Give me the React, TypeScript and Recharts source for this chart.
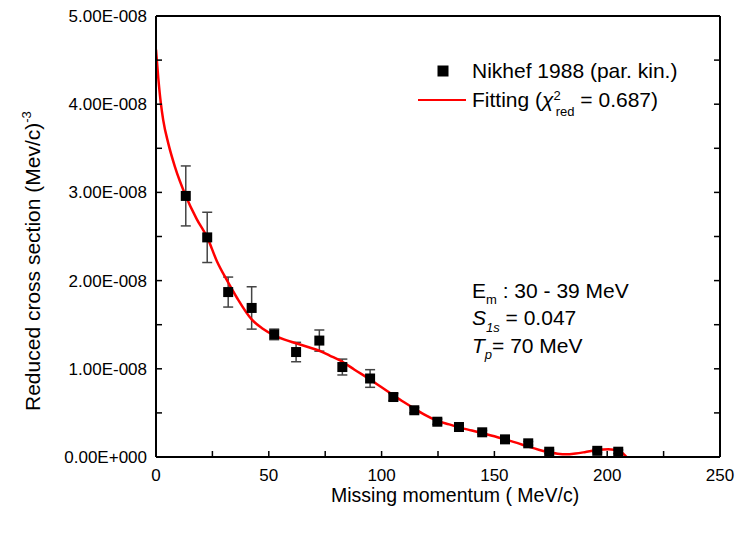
import React from 'react';
import { ComposedChart, Scatter, Line, XAxis, YAxis, ErrorBar, Customized } from 'recharts';

// measured points, Nikhef 1988 (par. kin.)
const momentum = [13.2, 22.7, 32.0, 42.4, 52.4, 62.1, 72.4, 82.6, 94.9, 105.2, 114.5, 124.7, 134.3, 144.6, 154.7, 165.0, 174.3, 195.6, 204.9];
const crossSection = [
  2.96e-8, 2.49e-8, 1.87e-8, 1.69e-8, 1.39e-8, 1.19e-8, 1.32e-8, 1.02e-8, 0.89e-8, 0.68e-8,
  0.53e-8, 0.40e-8, 0.34e-8, 0.28e-8, 0.20e-8, 0.155e-8, 0.06e-8, 0.07e-8, 0.06e-8,
];
const crossError = [
  0.34e-8, 0.285e-8, 0.17e-8, 0.24e-8, 0.06e-8, 0.11e-8, 0.12e-8, 0.09e-8, 0.10e-8, 0.04e-8,
  0.03e-8, 0.03e-8, 0.02e-8, 0.02e-8, 0.02e-8, 0.02e-8, 0.02e-8, 0.02e-8, 0.02e-8,
];

// fitted curve
const fitMomentum = [
  0, 1, 2.2, 3.2, 5.5, 8.4, 13.2, 18, 22.7, 27, 31.3, 36, 42.4, 47, 52.4, 57, 62.1, 67, 72.4, 77,
  82.6, 88, 94.9, 100, 105.2, 110, 114.5, 119, 124.7, 130, 134.3, 140, 144.6, 150, 154.7, 160, 165,
  170, 174.3, 178, 182, 186, 190, 195.6, 200.5, 203, 204.9, 207, 208.6,
];
const fitCrossSection = [
  4.62e-8, 4.3e-8, 4.0e-8, 3.82e-8, 3.55e-8, 3.29e-8, 2.96e-8, 2.7e-8, 2.49e-8, 2.22e-8, 2.01e-8,
  1.8e-8, 1.56e-8, 1.46e-8, 1.38e-8, 1.33e-8, 1.29e-8, 1.25e-8, 1.205e-8, 1.15e-8, 1.08e-8,
  0.99e-8, 0.88e-8, 0.79e-8, 0.70e-8, 0.62e-8, 0.55e-8, 0.48e-8, 0.41e-8, 0.37e-8, 0.336e-8,
  0.30e-8, 0.27e-8, 0.235e-8, 0.20e-8, 0.16e-8, 0.117e-8, 0.08e-8, 0.055e-8, 0.038e-8, 0.03e-8,
  0.04e-8, 0.055e-8, 0.079e-8, 0.087e-8, 0.083e-8, 0.071e-8, 0.04e-8, 0,
];

const xTicks = [0, 25, 50, 75, 100, 125, 150, 175, 200, 225, 250];
const xLabels = [0, 50, 100, 150, 200, 250];
const yTicks = [0, 0.5e-8, 1e-8, 1.5e-8, 2e-8, 2.5e-8, 3e-8, 3.5e-8, 4e-8, 4.5e-8, 5e-8];
const yLabels = [0, 1e-8, 2e-8, 3e-8, 4e-8, 5e-8];

const points = momentum.map((x, i) => ({ x, y: crossSection[i], err: crossError[i] }));
const fit = fitMomentum.map((x, i) => ({ x, y: fitCrossSection[i] }));

// Origin style 1.00E-008
function formatSci(v: number) {
  if (v === 0) return '0.00E+000';
  let e = Math.floor(Math.log10(Math.abs(v)));
  let m = v / Math.pow(10, e);
  if (parseFloat(m.toFixed(2)) >= 10) {
    m = m / 10;
    e += 1;
  }
  const sign = e < 0 ? '-' : '+';
  return `${m.toFixed(2)}E${sign}${String(Math.abs(e)).padStart(3, '0')}`;
}

const isLabel = (v: number, list: number[]) => list.some((l) => Math.abs(l - v) < 1e-14);

const BottomTick = ({ x, y, payload }: any) => (
  <g>
    <line x1={x} x2={x} y1={y} y2={y - 6} stroke="#000" strokeWidth={1.5} />
    {xLabels.includes(payload.value) && (
      <text x={x} y={y + 24} textAnchor="middle" fontSize={17} fill="#000">
        {payload.value}
      </text>
    )}
  </g>
);

const TopTick = ({ x, y }: any) => <line x1={x} x2={x} y1={y} y2={y + 6} stroke="#000" strokeWidth={1.5} />;

const LeftTick = ({ x, y, payload }: any) => (
  <g>
    <line x1={x} x2={x + 6} y1={y} y2={y} stroke="#000" strokeWidth={1.5} />
    {isLabel(payload.value, yLabels) && (
      <text x={x - 9} y={y + 6} textAnchor="end" fontSize={17} fill="#000">
        {formatSci(payload.value)}
      </text>
    )}
  </g>
);

const RightTick = ({ x, y }: any) => <line x1={x} x2={x - 6} y1={y} y2={y} stroke="#000" strokeWidth={1.5} />;

const Square = (props: any) => {
  const { cx, cy } = props;
  if (cx == null || cy == null) return null;
  return <rect x={cx - 5} y={cy - 5} width={10} height={10} fill="#000" />;
};

const Annotations = () => (
  <g fill="#000">
    {/* legend */}
    <rect x={437.5} y={65.5} width={11} height={11} fill="#000" />
    <text x={472} y={77.5} fontSize={21}>Nikhef 1988 (par. kin.)</text>
    <line x1={418} x2={466} y1={100} y2={100} stroke="#ff0000" strokeWidth={2} />
    <text x={472} y={107} fontSize={21}>
      Fitting (<tspan fontStyle="italic">χ</tspan>
      <tspan fontSize={13} dy={-7}>2</tspan>
      <tspan fontSize={13} dx={-5} dy={16}>red</tspan>
      <tspan dy={-9}> = 0.687)</tspan>
    </text>

    {/* parameters */}
    <text x={472} y={298} fontSize={21}>
      E<tspan fontSize={13} dy={6}>m</tspan>
      <tspan dy={-6}> : 30 - 39 MeV</tspan>
    </text>
    <text x={472} y={325} fontSize={21}>
      <tspan fontStyle="italic">S</tspan>
      <tspan fontSize={13} fontStyle="italic" dy={7}>1s</tspan>
      <tspan dy={-7}> = 0.047</tspan>
    </text>
    <text x={472} y={353} fontSize={21}>
      <tspan fontStyle="italic">T</tspan>
      <tspan fontSize={13} fontStyle="italic" dy={6}>p</tspan>
      <tspan dy={-6}>= 70 MeV</tspan>
    </text>

    {/* axis titles */}
    <text x={331} y={502} fontSize={19.5}>Missing momentum ( MeV/c)</text>
    <text x={40} y={411} fontSize={21} transform="rotate(-90 40 411)">
      Reduced cross section (Mev/c)<tspan fontSize={13} dy={-9}>-3</tspan>
    </text>
  </g>
);

const axisLine = { stroke: '#000', strokeWidth: 2 };

export default function App() {
  return (
    <div
      style={{
        position: 'absolute',
        left: 0,
        top: 0,
        width: 738,
        height: 534,
        background: '#fff',
        fontFamily: '"Liberation Sans", Arial, sans-serif',
      }}
    >
      <ComposedChart width={738} height={534} margin={{ top: 15, right: 17, bottom: 76, left: 155 }}>
        <XAxis
          dataKey="x"
          type="number"
          domain={[0, 250]}
          ticks={xTicks}
          interval={0}
          height={1}
          tickSize={0}
          tickMargin={0}
          tick={<BottomTick />}
          stroke="#000"
          axisLine={axisLine}
          allowDataOverflow
        />
        <XAxis
          xAxisId="top"
          orientation="top"
          type="number"
          domain={[0, 250]}
          ticks={xTicks}
          interval={0}
          height={1}
          tickSize={0}
          tickMargin={0}
          tick={<TopTick />}
          stroke="#000"
          axisLine={axisLine}
          allowDataOverflow
        />
        <YAxis
          type="number"
          domain={[0, 5e-8]}
          ticks={yTicks}
          interval={0}
          width={1}
          tickSize={0}
          tickMargin={0}
          tick={<LeftTick />}
          stroke="#000"
          axisLine={axisLine}
          allowDataOverflow
        />
        <YAxis
          yAxisId="right"
          orientation="right"
          type="number"
          domain={[0, 5e-8]}
          ticks={yTicks}
          interval={0}
          width={1}
          tickSize={0}
          tickMargin={0}
          tick={<RightTick />}
          stroke="#000"
          axisLine={axisLine}
          allowDataOverflow
        />
        <Scatter data={points} dataKey="y" shape={<Square />} isAnimationActive={false}>
          <ErrorBar dataKey="err" direction="y" width={5} stroke="#444" strokeWidth={1.5} isAnimationActive={false} />
        </Scatter>
        <Line
          data={fit}
          dataKey="y"
          type="monotone"
          stroke="#ff0000"
          strokeWidth={2.5}
          dot={false}
          activeDot={false}
          isAnimationActive={false}
        />
        <Customized component={Annotations} />
      </ComposedChart>
    </div>
  );
}
